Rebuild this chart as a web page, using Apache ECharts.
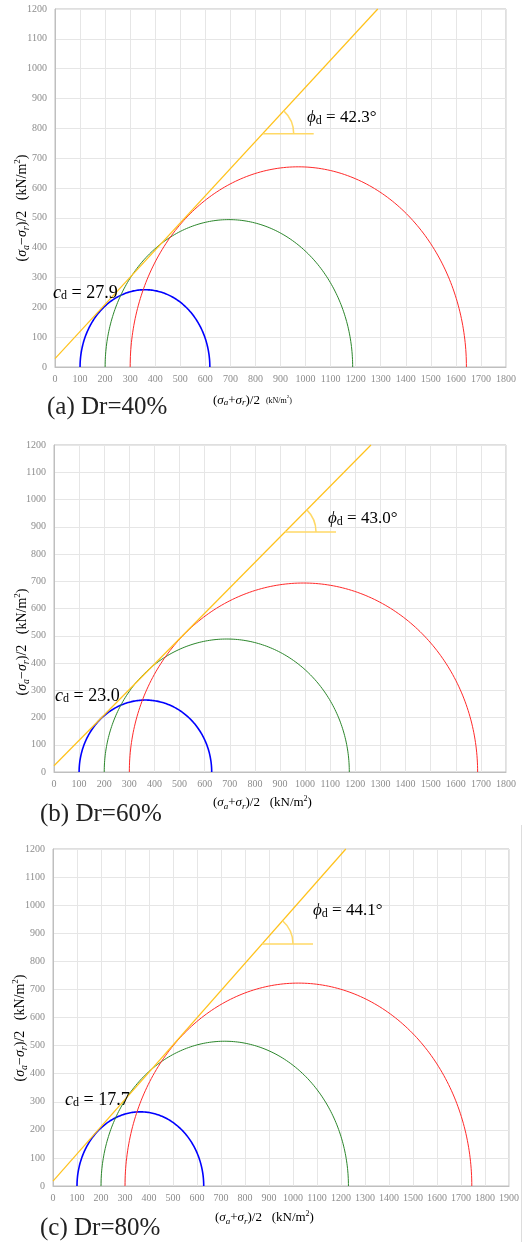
<!DOCTYPE html>
<html><head><meta charset="utf-8">
<script src="https://cdn.jsdelivr.net/npm/echarts@6/dist/echarts.min.js"></script>
<style>html,body{margin:0;padding:0;background:#fff}#c{width:527px;height:1242px}</style>
</head><body><div id="c"></div>
<script>
// ---- data ----
const panelLabels = ['(a) Dr=40%', '(b) Dr=60%', '(c) Dr=80%'];
const sigma3 = [100, 200, 300];                 // circle left ends
const sigma1A = [618, 1188, 1642];              // circle right ends, Dr=40%
const sigma1B = [628, 1176, 1687];              // Dr=60%
const sigma1C = [628, 1231, 1745];              // Dr=80%
const cohesion = [27.9, 23.0, 17.7];
const phiDeg = [42.3, 43.0, 44.1];
const angleMarkX = [829, 920, 871];             // where the angle marker sits on the envelope
const xMaxes = [1800, 1800, 1900];
const yMax = 1200;
const tickStep = 100;

// ---- layout / style ----
const sigma1Sets = [sigma1A, sigma1B, sigma1C];
const grids = [
  {left: 55, top: 9, width: 451, height: 358},
  {left: 54, top: 445, width: 452, height: 327},
  {left: 53, top: 849, width: 456, height: 337}
];
const circleColors = ['#0000ff', '#2b862b', '#ff2a2a'];
const circleWidths = [1.6, 1, 1];
const envColor = '#ffc21a';
const markColor = '#ffd966';
const serif = 'Liberation Serif';

function circleRender(params, api) {
  const s3 = api.value(0), s1 = api.value(1);
  const c = (s1 + s3) / 2, r = (s1 - s3) / 2;
  const pts = [];
  for (let i = 0; i <= 180; i++) {
    const t = Math.PI * i / 180;
    pts.push(api.coord([c + r * Math.cos(t), r * Math.sin(t)]));
  }
  return {type: 'polyline', shape: {points: pts},
    style: {stroke: circleColors[params.dataIndex], lineWidth: circleWidths[params.dataIndex], fill: null}};
}
function envRender(params, api) {
  const c = api.value(0), tn = Math.tan(api.value(1) * Math.PI / 180);
  const p0 = api.coord([0, c]);
  const p1 = api.coord([(yMax - c) / tn, yMax]);
  return {type: 'line', shape: {x1: p0[0], y1: p0[1], x2: p1[0], y2: p1[1]},
    style: {stroke: envColor, lineWidth: 1.2}};
}
function markRender(params, api) {
  const x0 = api.value(0), c = api.value(1), tn = Math.tan(api.value(2) * Math.PI / 180);
  const p = api.coord([x0, c + x0 * tn]);
  const q = api.coord([x0 + 100, c + (x0 + 100) * tn]);
  const th = Math.atan2(p[1] - q[1], q[0] - p[0]);
  return {type: 'group', children: [
    {type: 'line', shape: {x1: p[0], y1: p[1], x2: p[0] + 51, y2: p[1]}, style: {stroke: markColor, lineWidth: 1.5}},
    {type: 'arc', shape: {cx: p[0], cy: p[1], r: 31, startAngle: -th, endAngle: 0, clockwise: true},
      style: {stroke: markColor, lineWidth: 1.5, fill: null}}
  ]};
}

const xAxes = [], yAxes = [], series = [];
grids.forEach((g, k) => {
  xAxes.push({gridIndex: k, type: 'value', min: 0, max: xMaxes[k], interval: tickStep,
    axisLine: {show: true, lineStyle: {color: '#bfbfbf'}}, axisTick: {show: false},
    axisLabel: {color: '#8c8c8c', fontFamily: serif, fontSize: 10, margin: 7, showMaxLabel: true, formatter: v => String(v)},
    splitLine: {show: true, lineStyle: {color: '#e6e6e6'}}});
  yAxes.push({gridIndex: k, type: 'value', min: 0, max: yMax, interval: tickStep,
    axisLine: {show: true, lineStyle: {color: '#bfbfbf'}}, axisTick: {show: false},
    axisLabel: {color: '#8c8c8c', fontFamily: serif, fontSize: 10, margin: 8, formatter: v => String(v)},
    splitLine: {show: true, lineStyle: {color: '#e6e6e6'}}});
  series.push({type: 'custom', xAxisIndex: k, yAxisIndex: k, renderItem: circleRender, silent: true,
    data: sigma3.map((s, i) => [s, sigma1Sets[k][i]]), encode: {x: [0, 1], y: -1}});
  series.push({type: 'custom', xAxisIndex: k, yAxisIndex: k, renderItem: envRender, silent: true,
    data: [[cohesion[k], phiDeg[k]]], encode: {x: -1, y: 0}});
  series.push({type: 'custom', xAxisIndex: k, yAxisIndex: k, renderItem: markRender, silent: true,
    data: [[angleMarkX[k], cohesion[k], phiDeg[k]]], encode: {x: 0, y: -1}});
});

const mathRich = (big) => ({
  i: {fontFamily: serif, fontStyle: 'italic', fontSize: big, color: '#111', verticalAlign: 'bottom', lineHeight: big + 2},
  s: {fontFamily: serif, fontSize: Math.round(big * 0.68), color: '#111', verticalAlign: 'bottom', lineHeight: big - 2},
  n: {fontFamily: serif, fontSize: big, color: '#111', verticalAlign: 'bottom', lineHeight: big + 2}
});
const axisRich = (fs, unitFs) => ({
  p: {fontFamily: serif, fontSize: fs, color: '#222'},
  i: {fontFamily: serif, fontStyle: 'italic', fontSize: fs, color: '#222'},
  s: {fontFamily: serif, fontStyle: 'italic', fontSize: Math.round(fs * 0.7), color: '#222', verticalAlign: 'bottom', lineHeight: fs - 4},
  u: {fontFamily: serif, fontSize: unitFs, color: '#222'},
  sup: {fontFamily: serif, fontSize: Math.round(unitFs * 0.65), color: '#222', verticalAlign: 'top', lineHeight: unitFs + 4}
});
const yTitle = '{p|(}{i|σ}{s|a}{p|−}{i|σ}{s|r}{p|)/2}{u|   (kN/m}{sup|2}{u|)}';
const xTitle = '{p|(}{i|σ}{s|a}{p|+}{i|σ}{s|r}{p|)/2}{u|   (kN/m}{sup|2}{u|)}';

const cLabelPos = [[53, 292], [55, 695], [65, 1099]];
const phiLabelPos = [[307, 117], [328, 518], [313, 910]];
const yTitlePos = [[22, 208], [22, 642], [20, 1028]];
const xTitlePos = [[213, 401], [213, 803], [215, 1218]];
const unitSizes = [8, 13, 13];
const captionPos = [[47, 407], [40, 814], [40, 1228]];

const graphic = [];
for (let k = 0; k < 3; k++) {
  graphic.push({type: 'text', x: cLabelPos[k][0], y: cLabelPos[k][1], z: 100,
    style: {text: '{i|c}{s|d}{n| = ' + cohesion[k].toFixed(1) + '}', rich: mathRich(18), verticalAlign: 'middle', align: 'left'}});
  graphic.push({type: 'text', x: phiLabelPos[k][0], y: phiLabelPos[k][1], z: 100,
    style: {text: '{i|ϕ}{s|d}{n| = ' + phiDeg[k].toFixed(1) + '°}', rich: mathRich(17), verticalAlign: 'middle', align: 'left'}});
  graphic.push({type: 'text', x: yTitlePos[k][0], y: yTitlePos[k][1], rotation: Math.PI / 2,
    style: {text: yTitle, rich: axisRich(14, 14), align: 'center', verticalAlign: 'middle'}});
  graphic.push({type: 'text', x: xTitlePos[k][0], y: xTitlePos[k][1],
    style: {text: xTitle, rich: axisRich(13, unitSizes[k]), align: 'left', verticalAlign: 'middle'}});
  graphic.push({type: 'text', x: captionPos[k][0], y: captionPos[k][1],
    style: {text: panelLabels[k], fontFamily: serif, fontSize: 25, fill: '#222', align: 'left', verticalAlign: 'middle'}});
}
graphic.push({type: 'line', shape: {x1: 521.5, y1: 825, x2: 521.5, y2: 1242}, style: {stroke: '#dddddd', lineWidth: 1}});

const chart = echarts.init(document.getElementById('c'), null, {renderer: 'canvas'});
chart.setOption({
  animation: false,
  backgroundColor: '#fff',
  grid: grids.map(g => Object.assign({show: true, borderColor: '#bfbfbf', borderWidth: 1, containLabel: false}, g)),
  xAxis: xAxes,
  yAxis: yAxes,
  series: series,
  graphic: graphic
});
</script></body></html>
